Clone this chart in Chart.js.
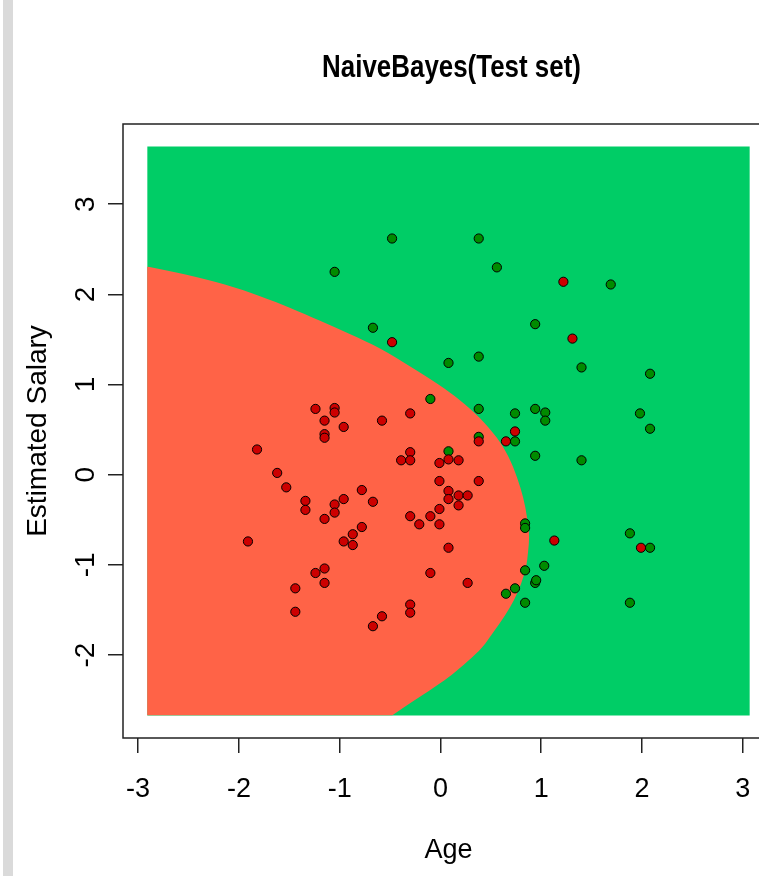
<!DOCTYPE html>
<html>
<head>
<meta charset="utf-8">
<title>NaiveBayes(Test set)</title>
<script src="https://cdn.jsdelivr.net/npm/chart.js@4.4.0/dist/chart.umd.min.js"></script>
<style>
  html, body { margin: 0; padding: 0; background: #fff; overflow: hidden; }
  #wrap { position: relative; width: 759px; height: 876px; overflow: hidden; }
  #chart { position: absolute; left: 0; top: 0; }
  #bar { position: absolute; left: 3px; top: 0; width: 10px; height: 876px; background: #dadada; }
</style>
</head>
<body>
<div id="wrap">
  <canvas id="chart" width="800" height="876"></canvas>
  <div id="bar"></div>
</div>
<script>
var titleText = 'NaiveBayes(Test set)';

// test set points, scaled Age / Estimated Salary
var redAge = [-0.48, 1.22, 1.31, 0.74, 0.65, 0.38, 1.13, 1.99, -1.24, -1.05, -1.05, -1.15, -0.96, -1.15, -1.15, -0.58,
  -0.30, -1.82, -1.62, -1.53, -1.34, -1.34, -1.15, -1.05, -1.05, -0.96, -0.78, -0.67, -0.78, -0.87, -0.96, -0.87,
  -1.91, -1.24, -1.15, -1.15, -1.44, -1.44, -0.10, -0.30, -0.30, -0.58, -0.67, -0.30, -0.39, -0.30, -0.01, -0.01,
  0.08, 0.18, 0.38, 0.08, 0.08, 0.18, 0.27, 0.18, -0.01, -0.10, -0.30, -0.21, -0.01, 0.08, 0.27];
var redSalary = [1.47, 2.14, 1.51, 0.48, 0.37, 0.37, -0.73, -0.81, 0.73, 0.74, 0.69, 0.60, 0.53, 0.45, 0.41, 0.60,
  0.68, 0.28, 0.02, -0.14, -0.29, -0.39, -0.49, -0.33, -0.42, -0.27, -0.17, -0.30, -0.58, -0.66, -0.74, -0.78,
  -0.74, -1.09, -1.04, -1.20, -1.26, -1.52, -1.09, -1.44, -1.53, -1.57, -1.68, 0.25, 0.16, 0.16, 0.13, -0.07,
  0.17, 0.16, -0.07, -0.18, -0.27, -0.23, -0.23, -0.34, -0.38, -0.46, -0.46, -0.55, -0.55, -0.81, -1.20];

var greenAge = [-0.48, 0.38, 0.56, -1.05, 1.69, 0.94, -0.67, 0.38, 0.08, 1.40, 2.08, -0.10, 0.38, 0.74, 0.94, 1.04,
  1.04, 1.98, 2.08, 0.38, 0.74, 0.08, 0.94, 1.40, 0.84, 0.84, 1.88, 2.08, 1.03, 0.84, 0.94, 0.95, 0.74, 0.65, 0.84, 1.88];
var greenSalary = [2.62, 2.62, 2.30, 2.25, 2.11, 1.67, 1.63, 1.31, 1.24, 1.19, 1.12, 0.84, 0.73, 0.68, 0.73, 0.69,
  0.60, 0.68, 0.51, 0.42, 0.37, 0.26, 0.21, 0.16, -0.54, -0.59, -0.65, -0.81, -1.01, -1.06, -1.20, -1.17, -1.26, -1.32, -1.42, -1.42];

// extent of the prediction grid
var gridAge = [-2.91, 3.07];
var gridSalary = [-2.67, 3.64];

// edge of the "0" region, top to bottom
var boundaryAge = [-2.91, -2.53, -2.14, -1.79, -1.49, -1.20, -0.90, -0.60, -0.30, -0.02, 0.19, 0.39, 0.56, 0.67, 0.76,
  0.82, 0.86, 0.88, 0.87, 0.85, 0.80, 0.73, 0.64, 0.53, 0.41, 0.27, 0.11, -0.04, -0.20, -0.35, -0.48];
var boundarySalary = [2.31, 2.22, 2.11, 1.98, 1.85, 1.71, 1.56, 1.40, 1.20, 1.00, 0.83, 0.63, 0.41, 0.21, -0.03,
  -0.25, -0.48, -0.69, -0.85, -1.02, -1.21, -1.39, -1.56, -1.74, -1.92, -2.07, -2.22, -2.34, -2.46, -2.57, -2.67];

var xTicks = [-3, -2, -1, 0, 1, 2, 3];
var yTicks = [-2, -1, 0, 1, 2, 3];

var regular = "'Liberation Sans', Arial, sans-serif";

function pairs(xs, ys) {
  return xs.map(function (v, i) { return { x: v, y: ys[i] }; });
}

// plot frame all round, like R's box()
var boxPlugin = {
  id: 'box',
  afterDraw: function (chart) {
    var a = chart.chartArea, c = chart.ctx;
    c.save();
    c.strokeStyle = '#222';
    c.lineWidth = 1.5;
    c.strokeRect(a.left, a.top, a.right - a.left, a.bottom - a.top);
    c.restore();
  }
};

// R draws the main title narrower than the canvas fonts, so squeeze it a bit
var titlePlugin = {
  id: 'squeezedTitle',
  afterDraw: function (chart) {
    var a = chart.chartArea, c = chart.ctx;
    c.save();
    c.translate((a.left + a.right) / 2 + 3, 68);
    c.scale(0.81, 1);
    c.font = 'bold 32px ' + regular;
    c.fillStyle = '#000';
    c.textAlign = 'center';
    c.textBaseline = 'middle';
    c.fillText(titleText, 0, 0);
    c.restore();
  }
};

var ctx = document.getElementById('chart');

var chart = new Chart(ctx, {
  type: 'scatter',
  data: {
    datasets: [
      {
        label: 'Not purchased',
        data: pairs(redAge, redSalary),
        backgroundColor: '#CD0000',
        borderColor: '#000',
        borderWidth: 1,
        pointRadius: 4.6,
        order: 0
      },
      {
        label: 'Purchased',
        data: pairs(greenAge, greenSalary),
        backgroundColor: '#008B00',
        borderColor: '#000',
        borderWidth: 1,
        pointRadius: 4.6,
        order: 1
      },
      {
        type: 'line',
        label: 'region 0',
        indexAxis: 'y',
        data: pairs(boundaryAge, boundarySalary),
        fill: { value: gridAge[0] },
        backgroundColor: '#FF6347',
        borderColor: 'rgba(0,0,0,0)',
        borderWidth: 0,
        pointRadius: 0,
        cubicInterpolationMode: 'monotone',
        order: 2
      },
      {
        type: 'line',
        label: 'region 1',
        data: [{ x: gridAge[0], y: gridSalary[1] }, { x: gridAge[1], y: gridSalary[1] }],
        fill: { value: gridSalary[0] },
        backgroundColor: '#00CD66',
        borderColor: 'rgba(0,0,0,0)',
        borderWidth: 0,
        pointRadius: 0,
        order: 3
      }
    ]
  },
  options: {
    responsive: false,
    animation: false,
    events: [],
    layout: { padding: { left: 0, right: 26, top: 124, bottom: 0 } },
    plugins: {
      legend: { display: false },
      tooltip: { enabled: false },
      title: { display: false }
    },
    scales: {
      x: {
        type: 'linear',
        min: -3.15,
        max: 3.31,
        afterBuildTicks: function (s) { s.ticks = xTicks.map(function (v) { return { value: v }; }); },
        afterFit: function (s) { s.height = 138; },
        grid: { drawOnChartArea: false, tickLength: 15, color: '#222', lineWidth: 1.5 },
        border: { display: false },
        ticks: { padding: 20, color: '#000', font: { family: regular, size: 27 } },
        title: { display: true, text: 'Age', color: '#000', font: { family: regular, size: 27 }, padding: { top: 0, bottom: 9 } }
      },
      y: {
        type: 'linear',
        min: -2.92,
        max: 3.89,
        afterBuildTicks: function (s) { s.ticks = yTicks.map(function (v) { return { value: v }; }); },
        afterFit: function (s) { s.width = 123; },
        grid: { drawOnChartArea: false, tickLength: 15, color: '#222', lineWidth: 1.5 },
        border: { display: false },
        ticks: { minRotation: 90, maxRotation: 90, crossAlign: 'center', padding: 9, color: '#000', font: { family: regular, size: 28 } },
        title: { display: true, text: 'Estimated Salary', color: '#000', font: { family: regular, size: 28 }, padding: { top: 21, bottom: 0 } }
      }
    }
  },
  plugins: [boxPlugin, titlePlugin]
});
</script>
</body>
</html>
